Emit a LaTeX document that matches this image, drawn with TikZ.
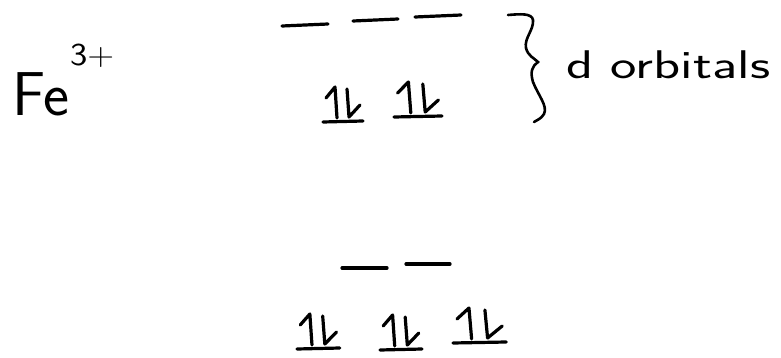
\documentclass[tikz,border=0pt]{standalone}
\begin{document}
\begin{tikzpicture}[x=1pt,y=-1pt,
  ink/.style={line width=3.2pt,line cap=round,line join=round},
  level/.style={ink},
  lbl/.style={inner sep=0pt,anchor=base west,font=\sffamily},
  epair/.pic={
    \draw[ink] (0,0) -- (40,-1);
    \draw[ink] (14,-4) -- (12,-35) -- (3,-24);
    \draw[ink] (24,-33) -- (26,-5) -- (37,-17);
  }]
\useasboundingbox (0,0) rectangle (781,358);
% Fe 3+
\node[lbl] (fe) at (12,116) {\fontsize{62}{62}\selectfont Fe};
\node[lbl] (charge) at (70,66) {\fontsize{32}{32}\selectfont\scalebox{1.15}[1]{3+}};
% upper levels
\draw[level] (282,26) -- (328,24);
\draw[level] (353,21) -- (398,19);
\draw[level] (415,17) -- (461,15);
\pic at (323,122) {epair};
\pic[xscale=1.2] at (394,117) {epair};
% brace
\draw[line width=2.6pt,line cap=round]
  (508,15) .. controls (520,14) and (532,13) .. (533,20)
  .. controls (534,30) and (524,38) .. (526,48)
  .. controls (528,56) and (534,58) .. (538,62)
  .. controls (532,66) and (530,72) .. (533,82)
  .. controls (538,95) and (548,106) .. (544,114)
  .. controls (541,119) and (537,120) .. (534,122);
\node[lbl] (dorb) at (566,79) {\fontsize{40}{40}\selectfont\scalebox{1.4}[1]{d orbitals}};
% lower levels
\draw[level] (342,268) -- (387,268);
\draw[level] (406,264) -- (450,264);
\pic[xscale=1.07] at (297,349) {epair};
\pic[xscale=1.05] at (380,350) {epair};
\pic[xscale=1.33] at (453,343) {epair};
\end{tikzpicture}
\end{document}
